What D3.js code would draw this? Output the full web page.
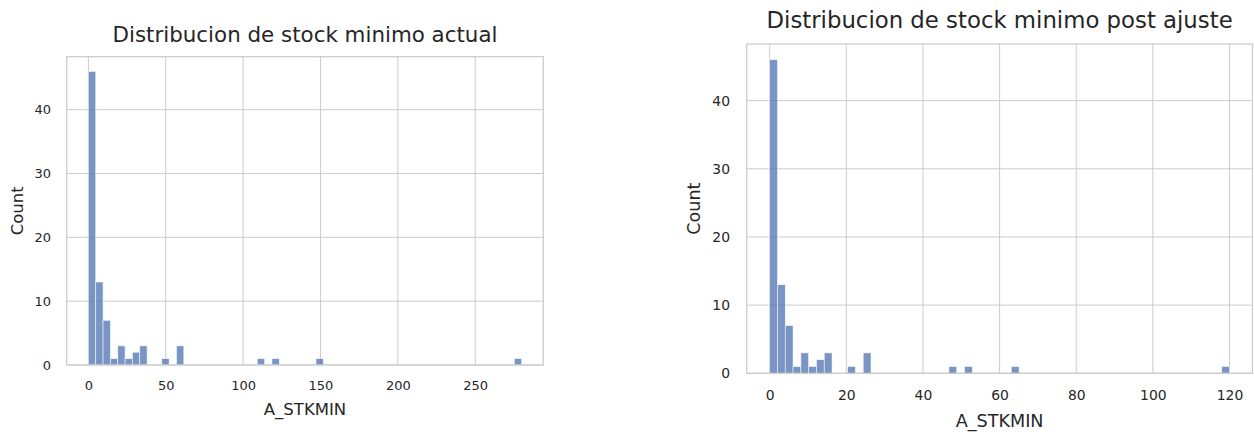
<!DOCTYPE html>
<html>
<head>
<meta charset="utf-8">
<script src="https://cdn.jsdelivr.net/npm/d3@7"></script>
<style>
  html, body { margin: 0; padding: 0; background: #ffffff; }
  svg { display: block; font-family: "DejaVu Sans", sans-serif; }
</style>
</head>
<body>
<svg id="chart" width="1254" height="432"></svg>
<script>
// ---- data ----
const titles = ["Distribucion de stock minimo actual", "Distribucion de stock minimo post ajuste"];
const xLabel = "A_STKMIN";
const yLabel = "Count";
// histogram counts per bin (59 equal bins between min and max of the data)
const countsActual = [46, 13, 7, 1, 3, 1, 2, 3, 0, 0, 1, 0, 3, 0, 0, 0, 0, 0, 0, 0,
                      0, 0, 0, 1, 0, 1, 0, 0, 0, 0, 0, 1, 0, 0, 0, 0, 0, 0, 0, 0,
                      0, 0, 0, 0, 0, 0, 0, 0, 0, 0, 0, 0, 0, 0, 0, 0, 0, 0, 1];
const countsPost   = [46, 13, 7, 1, 3, 1, 2, 3, 0, 0, 1, 0, 3, 0, 0, 0, 0, 0, 0, 0,
                      0, 0, 0, 1, 0, 1, 0, 0, 0, 0, 0, 1, 0, 0, 0, 0, 0, 0, 0, 0,
                      0, 0, 0, 0, 0, 0, 0, 0, 0, 0, 0, 0, 0, 0, 0, 0, 0, 0, 1];
const rangeActual = [0, 280];
const rangePost = [0, 120];
const xTicksActual = [0, 50, 100, 150, 200, 250];
const xTicksPost = [0, 20, 40, 60, 80, 100, 120];
const yTicks = [0, 10, 20, 30, 40];

// ---- layout ----
const panels = [
  { title: titles[0], counts: countsActual, range: rangeActual, xTicks: xTicksActual,
    left: 66.7, right: 543.3, top: 56.7, bottom: 365,
    tickFont: 13, labelFont: 16.5, titleFont: 21.4,
    titleBase: 42, xTickBase: 25, xLabelBase: 50, yTickGap: 15.7, yLabelX: 22.5 },
  { title: titles[1], counts: countsPost, range: rangePost, xTicks: xTicksPost,
    left: 746.7, right: 1252.5, top: 44, bottom: 373.3,
    tickFont: 13.9, labelFont: 17.6, titleFont: 22.8,
    titleBase: 27.5, xTickBase: 26.7, xLabelBase: 53.2, yTickGap: 16.7, yLabelX: 700 }
];

const svg = d3.select("#chart");
const textColor = "#262626";
const gridColor = "#cccccc";

panels.forEach(p => {
  const n = p.counts.length;
  const bw = (p.range[1] - p.range[0]) / n;
  const bins = p.counts.map((c, i) => ({ x0: p.range[0] + i * bw, x1: p.range[0] + (i + 1) * bw, count: c }));
  const span = p.range[1] - p.range[0];
  const maxCount = d3.max(p.counts);

  const x = d3.scaleLinear()
    .domain([p.range[0] - 0.05 * span, p.range[1] + 0.05 * span])
    .range([p.left, p.right]);
  const y = d3.scaleLinear()
    .domain([0, maxCount * 1.05])
    .range([p.bottom, p.top]);

  const g = svg.append("g");

  // grid
  g.append("g").selectAll("line.vg").data(p.xTicks).join("line")
    .attr("x1", d => x(d)).attr("x2", d => x(d))
    .attr("y1", p.top).attr("y2", p.bottom)
    .attr("stroke", gridColor).attr("stroke-width", 1);
  g.append("g").selectAll("line.hg").data(yTicks).join("line")
    .attr("x1", p.left).attr("x2", p.right)
    .attr("y1", d => y(d)).attr("y2", d => y(d))
    .attr("stroke", gridColor).attr("stroke-width", 1);

  // bars
  g.append("g").selectAll("rect").data(bins.filter(b => b.count > 0)).join("rect")
    .attr("x", d => x(d.x0))
    .attr("width", d => x(d.x1) - x(d.x0))
    .attr("y", d => y(d.count))
    .attr("height", d => y(0) - y(d.count))
    .attr("fill", "#4C72B0")
    .attr("fill-opacity", 0.75)
    .attr("stroke", "#ffffff")
    .attr("stroke-opacity", 0.75)
    .attr("stroke-width", 0.7);

  // frame
  g.append("rect")
    .attr("x", p.left).attr("y", p.top)
    .attr("width", p.right - p.left).attr("height", p.bottom - p.top)
    .attr("fill", "none").attr("stroke", gridColor).attr("stroke-width", 1.25);

  // x axis
  const xAxis = d3.axisBottom(x).tickValues(p.xTicks).tickSize(0)
    .tickPadding(p.xTickBase - 0.71 * p.tickFont).tickFormat(d3.format("d"));
  const xa = g.append("g").attr("transform", `translate(0,${p.bottom})`).call(xAxis);
  xa.select(".domain").remove();
  xa.selectAll("text").attr("fill", textColor).attr("font-size", p.tickFont)
    .attr("font-family", "DejaVu Sans, sans-serif");

  // y axis
  const yAxis = d3.axisLeft(y).tickValues(yTicks).tickSize(0)
    .tickPadding(p.yTickGap).tickFormat(d3.format("d"));
  const ya = g.append("g").attr("transform", `translate(${p.left},0)`).call(yAxis);
  ya.select(".domain").remove();
  ya.selectAll("text").attr("fill", textColor).attr("font-size", p.tickFont)
    .attr("font-family", "DejaVu Sans, sans-serif");

  // labels
  const cx = (p.left + p.right) / 2;
  g.append("text").attr("x", cx).attr("y", p.titleBase)
    .attr("text-anchor", "middle").attr("font-size", p.titleFont).attr("fill", textColor)
    .text(p.title);
  g.append("text").attr("x", cx).attr("y", p.bottom + p.xLabelBase)
    .attr("text-anchor", "middle").attr("font-size", p.labelFont).attr("fill", textColor)
    .text(xLabel);
  g.append("text")
    .attr("transform", `translate(${p.yLabelX},${(p.top + p.bottom) / 2}) rotate(-90)`)
    .attr("text-anchor", "middle").attr("font-size", p.labelFont).attr("fill", textColor)
    .text(yLabel);
});
</script>
</body>
</html>
